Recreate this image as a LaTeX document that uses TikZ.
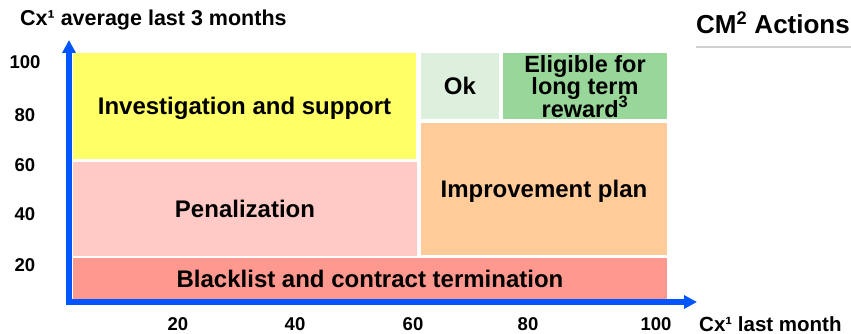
\documentclass[tikz,border=0pt]{standalone}
\usepackage{fontspec}
\setmainfont{Liberation Sans}
\usetikzlibrary{arrows.meta}
\definecolor{axisblue}{HTML}{0055FF}
\definecolor{zyellow}{HTML}{FFFF66}
\definecolor{zpink}{HTML}{FFCAC6}
\definecolor{zred}{HTML}{FF988E}
\definecolor{zorange}{HTML}{FFCC99}
\definecolor{zlgreen}{HTML}{DDF0DD}
\definecolor{zgreen}{HTML}{99D699}
\definecolor{rulegray}{HTML}{D0D0D0}
% fixed line pitch for stacked labels
\newcommand{\fixedpitch}{\setlength{\lineskiplimit}{-20pt}\setlength{\lineskip}{0pt}}
\tikzset{
  zone/.style={draw=none, inner sep=0pt, align=center, text depth=0pt,
    font=\bfseries\fontsize{24}{24}\selectfont},
  axisline/.style={draw=axisblue, line width=6pt, -{Triangle[length=13pt,width=13pt]}},
  tick/.style={inner sep=0pt, font=\bfseries\fontsize{18.5}{18.5}\selectfont},
  caption/.style={inner sep=0pt, font=\bfseries\fontsize{21.5}{21.5}\selectfont, anchor=west},
}
\begin{document}
\begin{tikzpicture}[x=1pt,y=-1pt]
\useasboundingbox (0,0) rectangle (851,334);
% action zones
\node[zone, fill=zyellow, minimum width=343pt, minimum height=106pt] (inv) at (244.5,106) {Investigation and support};
\node[zone, fill=zpink, minimum width=344pt, minimum height=94pt] (pen) at (245,209) {Penalization};
\node[zone, fill=zred, minimum width=594pt, minimum height=42pt] (black) at (370,279) {Blacklist and contract termination};
\node[zone, fill=zorange, minimum width=246pt, minimum height=132pt] (impr) at (544,189) {Improvement plan};
\node[zone, fill=zlgreen, minimum width=78pt, minimum height=66pt] (ok) at (460,86) {Ok};
\node[zone, fill=zgreen, minimum width=164pt, minimum height=66pt,
      font=\bfseries\fontsize{23.5}{22.5}\selectfont\fixedpitch]
      (elig) at (585,86) {Eligible for\\long term\\reward\textsuperscript{3}};
% axes
\coordinate (origin) at (69,302);
\coordinate (ytip) at (69,40);
\coordinate (xtip) at (697,302);
\coordinate (ybase) at (69,305);
\coordinate (xbase) at (66,302);
\draw[axisline] (ybase) -- (ytip);
\draw[axisline] (xbase) -- (xtip);
% axis captions
\node[caption] (ycap) at (20,20) {Cx¹ average last 3 months};
\node[caption, font=\bfseries\fontsize{20.5}{20.5}\selectfont] (xcap) at (699,324) {Cx¹ last month};
% y ticks
\node[tick] (y100) at (25,62) {100};
\node[tick] (y80) at (25,115) {80};
\node[tick] (y60) at (25,165) {60};
\node[tick] (y40) at (25,214) {40};
\node[tick] (y20) at (25,265) {20};
% x ticks
\node[tick] (x20) at (178,324) {20};
\node[tick] (x40) at (295,324) {40};
\node[tick] (x60) at (413,324) {60};
\node[tick] (x80) at (528,324) {80};
\node[tick] (x100) at (656,324) {100};
% heading
\node[inner sep=0pt, anchor=west, font=\bfseries\fontsize{26}{26}\selectfont] (head) at (696,23) {CM\textsuperscript{2} Actions};
\coordinate (ruleL) at (696,47.5);
\coordinate (ruleR) at (851,47.5);
\draw[rulegray, line width=2pt] (ruleL) -- (ruleR);
\end{tikzpicture}
\end{document}
